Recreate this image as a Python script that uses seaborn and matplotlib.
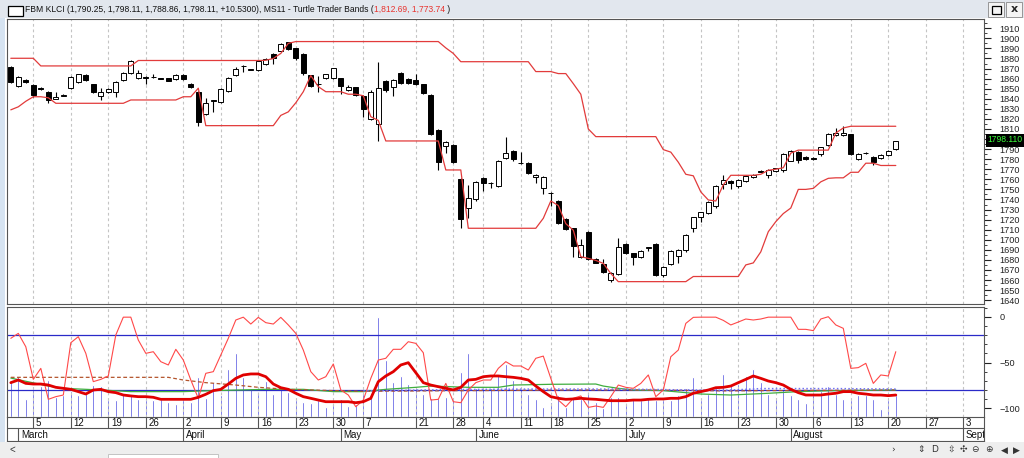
import numpy as np
import pandas as pd
import matplotlib
matplotlib.use("Agg")
import matplotlib.pyplot as plt
from matplotlib.patches import Rectangle
import seaborn as sns

sns.set_theme(style="white")
plt.rcParams["font.family"] = ["Liberation Sans", "DejaVu Sans"]

# ---------------- data ----------------
holidays = ["2018-05-01", "2018-05-09", "2018-05-10", "2018-05-11", "2018-05-29", "2018-06-15"]
axis_dates = pd.bdate_range("2018-02-28", "2018-09-07")
axis_dates = axis_dates[~axis_dates.isin(pd.to_datetime(holidays))]

open_ = np.array([
    1871.3, 1852.7, 1859.0, 1853.7, 1851.0, 1847.0, 1840.0, 1843.0, 1851.0, 1857.0,
    1863.6, 1854.4, 1843.0, 1846.4, 1846.4, 1858.7, 1865.3, 1860.3, 1861.5, 1861.5,
    1860.5, 1860.3, 1859.3, 1863.6, 1854.7, 1847.0, 1824.6, 1838.0, 1837.1, 1847.7,
    1863.6, 1872.5, 1869.0, 1868.6, 1874.2, 1884.1, 1887.8, 1896.1, 1890.0, 1884.2,
    1863.6, 1854.8, 1860.3, 1861.0, 1860.3, 1848.7, 1851.4, 1843.1, 1820.0, 1814.7,
    1857.7, 1852.0, 1866.0, 1859.7, 1858.7, 1854.4, 1843.8, 1809.0, 1793.4, 1794.1,
    1760.3, 1731.8, 1740.2, 1761.7, 1756.0, 1753.7, 1781.0, 1788.5, 1776.5, 1776.0,
    1762.0, 1751.0, 1746.5, 1738.8, 1720.2, 1711.4, 1682.6, 1708.0, 1680.6, 1675.9,
    1660.0, 1666.0, 1695.7, 1686.4, 1683.0, 1692.0, 1695.7, 1665.0, 1676.2, 1683.7,
    1690.0, 1711.4, 1722.3, 1727.0, 1733.6, 1755.4, 1758.7, 1753.4, 1758.7, 1762.0,
    1768.0, 1764.3, 1768.6, 1769.3, 1778.5, 1787.5, 1782.2, 1781.6, 1785.2, 1794.0,
    1804.0, 1804.3, 1804.7, 1779.9, 1786.2, 1782.2, 1780.9, 1784.2, 1790.25])
high = np.array([
    1872.6, 1863.0, 1860.0, 1854.5, 1852.0, 1848.0, 1846.4, 1845.0, 1863.0, 1865.0,
    1864.5, 1855.0, 1851.0, 1850.5, 1858.0, 1866.5, 1878.0, 1868.6, 1862.5, 1865.0,
    1861.0, 1861.0, 1864.5, 1864.5, 1855.5, 1848.0, 1841.0, 1839.0, 1850.5, 1862.0,
    1872.0, 1873.5, 1870.0, 1878.2, 1880.0, 1885.0, 1895.0, 1896.8, 1890.5, 1885.0,
    1864.0, 1863.0, 1865.0, 1871.0, 1861.0, 1854.0, 1852.0, 1844.0, 1848.5, 1876.8,
    1858.5, 1859.5, 1867.0, 1860.5, 1865.0, 1855.0, 1844.5, 1810.0, 1798.5, 1795.0,
    1761.0, 1754.0, 1758.0, 1762.5, 1757.0, 1779.0, 1802.4, 1789.5, 1787.0, 1777.0,
    1765.0, 1763.5, 1747.5, 1739.5, 1722.0, 1712.0, 1701.0, 1709.0, 1681.5, 1681.0,
    1667.5, 1702.0, 1696.5, 1687.0, 1690.0, 1693.0, 1696.5, 1674.0, 1689.5, 1691.0,
    1706.0, 1723.0, 1728.0, 1738.5, 1754.5, 1764.0, 1759.5, 1760.0, 1764.0, 1765.0,
    1769.0, 1770.0, 1771.5, 1786.0, 1789.0, 1788.0, 1783.0, 1782.5, 1792.5, 1806.0,
    1811.0, 1812.7, 1805.5, 1786.0, 1787.0, 1783.0, 1785.0, 1789.5, 1798.11])
low = np.array([
    1856.0, 1851.5, 1856.0, 1842.0, 1849.0, 1835.5, 1839.5, 1842.5, 1850.0, 1856.0,
    1858.0, 1845.5, 1838.8, 1845.5, 1842.0, 1858.0, 1864.5, 1859.5, 1854.3, 1861.0,
    1859.5, 1857.5, 1858.5, 1858.5, 1850.5, 1813.3, 1823.5, 1827.0, 1836.0, 1847.0,
    1863.0, 1866.3, 1868.5, 1868.0, 1873.5, 1875.0, 1887.0, 1888.5, 1878.0, 1864.0,
    1852.0, 1847.0, 1859.5, 1860.0, 1844.5, 1847.5, 1843.0, 1822.2, 1818.5, 1798.1,
    1847.0, 1843.0, 1854.5, 1854.5, 1853.5, 1845.0, 1804.0, 1769.3, 1786.0, 1776.0,
    1711.4, 1721.3, 1738.5, 1748.0, 1751.0, 1752.5, 1780.0, 1778.0, 1775.0, 1765.0,
    1756.0, 1745.5, 1734.0, 1716.0, 1709.5, 1683.2, 1681.5, 1679.5, 1676.5, 1666.5,
    1658.4, 1665.0, 1685.5, 1675.0, 1682.0, 1689.0, 1664.0, 1663.5, 1675.0, 1677.0,
    1688.0, 1708.0, 1718.0, 1726.0, 1731.5, 1750.0, 1750.0, 1751.0, 1757.5, 1761.0,
    1767.0, 1761.5, 1767.0, 1767.0, 1778.0, 1776.0, 1779.5, 1779.5, 1783.0, 1793.0,
    1803.0, 1803.5, 1784.0, 1779.0, 1785.0, 1773.74, 1780.3, 1783.5, 1788.86])
close = np.array([
    1857.0, 1861.9, 1857.0, 1843.8, 1850.0, 1838.8, 1841.5, 1844.0, 1862.0, 1864.3,
    1858.7, 1846.4, 1846.4, 1849.4, 1857.0, 1865.3, 1877.5, 1865.3, 1861.0, 1862.0,
    1860.0, 1858.0, 1863.6, 1859.3, 1851.4, 1816.6, 1835.5, 1838.5, 1849.7, 1861.0,
    1869.2, 1873.0, 1869.5, 1877.5, 1879.2, 1880.2, 1894.1, 1889.4, 1880.8, 1865.3,
    1853.0, 1854.4, 1864.3, 1870.3, 1852.5, 1852.0, 1843.8, 1829.9, 1847.0, 1850.4,
    1848.7, 1858.7, 1855.4, 1855.4, 1854.4, 1846.0, 1805.0, 1777.0, 1797.4, 1777.0,
    1720.6, 1741.2, 1757.1, 1756.1, 1756.3, 1778.2, 1786.0, 1780.0, 1776.0, 1766.0,
    1764.3, 1762.6, 1746.0, 1717.0, 1710.7, 1693.8, 1694.8, 1680.6, 1677.3, 1667.7,
    1666.7, 1692.5, 1686.4, 1682.6, 1689.0, 1692.2, 1665.0, 1673.3, 1688.6, 1690.0,
    1705.0, 1722.3, 1727.3, 1737.9, 1753.4, 1759.4, 1756.1, 1759.4, 1763.3, 1764.3,
    1767.6, 1769.3, 1771.0, 1785.2, 1788.5, 1779.2, 1780.5, 1780.2, 1791.8, 1805.0,
    1805.7, 1806.3, 1784.8, 1785.2, 1785.9, 1777.3, 1784.2, 1788.5, 1798.11])

upper_band = np.array([
    1880.2, 1880.2, 1880.2, 1880.2, 1872.6, 1872.6, 1872.6, 1872.6, 1872.6, 1872.6,
    1872.6, 1872.6, 1872.6, 1872.6, 1872.6, 1872.6, 1872.6, 1878.0, 1878.0, 1878.0,
    1878.0, 1878.0, 1878.0, 1878.0, 1878.0, 1878.0, 1878.0, 1878.0, 1878.0, 1878.0,
    1878.0, 1878.0, 1878.0, 1878.0, 1878.2, 1880.0, 1885.0, 1895.0, 1896.8, 1896.8,
    1896.8, 1896.8, 1896.8, 1896.8, 1896.8, 1896.8, 1896.8, 1896.8, 1896.8, 1896.8,
    1896.8, 1896.8, 1896.8, 1896.8, 1896.8, 1896.8, 1896.8, 1896.8, 1890.5, 1885.0,
    1876.8, 1876.8, 1876.8, 1876.8, 1876.8, 1876.8, 1876.8, 1876.8, 1876.8, 1876.8,
    1867.0, 1867.0, 1867.0, 1865.0, 1865.0, 1855.0, 1844.5, 1810.0, 1802.4, 1802.4,
    1802.4, 1802.4, 1802.4, 1802.4, 1802.4, 1802.4, 1802.4, 1789.5, 1787.0, 1777.0,
    1765.0, 1763.5, 1747.5, 1739.5, 1738.5, 1754.5, 1764.0, 1764.0, 1764.0, 1764.0,
    1765.0, 1769.0, 1770.0, 1771.5, 1786.0, 1789.0, 1789.0, 1789.0, 1789.0, 1789.0,
    1806.0, 1811.0, 1812.69, 1812.69, 1812.69, 1812.69, 1812.69, 1812.69, 1812.69])
lower_band = np.array([
    1829.0, 1832.0, 1837.5, 1842.0, 1842.0, 1841.0, 1835.5, 1835.5, 1835.5, 1835.5,
    1835.5, 1835.5, 1835.5, 1835.5, 1835.5, 1835.5, 1838.8, 1838.8, 1838.8, 1838.8,
    1838.8, 1838.8, 1838.8, 1842.0, 1842.0, 1850.5, 1813.3, 1813.3, 1813.3, 1813.3,
    1813.3, 1813.3, 1813.3, 1813.3, 1813.3, 1813.3, 1823.5, 1827.0, 1836.0, 1847.0,
    1863.0, 1852.0, 1847.0, 1847.0, 1847.0, 1844.5, 1844.5, 1843.0, 1822.2, 1818.5,
    1798.1, 1798.1, 1798.1, 1798.1, 1798.1, 1798.1, 1798.1, 1798.1, 1769.3, 1769.3,
    1769.3, 1711.4, 1711.4, 1711.4, 1711.4, 1711.4, 1711.4, 1711.4, 1711.4, 1711.4,
    1711.4, 1721.3, 1738.5, 1734.0, 1716.0, 1709.5, 1683.2, 1681.5, 1679.5, 1676.5,
    1666.5, 1658.4, 1658.4, 1658.4, 1658.4, 1658.4, 1658.4, 1658.4, 1658.4, 1658.4,
    1658.4, 1663.5, 1663.5, 1663.5, 1663.5, 1663.5, 1663.5, 1663.5, 1675.0, 1677.0,
    1688.0, 1708.0, 1718.0, 1726.0, 1731.5, 1750.0, 1750.0, 1751.0, 1757.5, 1761.0,
    1761.5, 1761.5, 1767.0, 1767.0, 1776.0, 1776.0, 1773.74, 1773.74, 1773.74])

pct_r = np.array([
    -23.6, -18.2, -32.8, -68.4, -56.4, -90.2, -87.3, -85.5, -28.4, -21.8,
    -40.0, -70.9, -68.4, -64.7, -20.0, -0.5, -0.5, -25.5, -40.0, -38.2,
    -49.1, -52.7, -35.6, -47.3, -69.1, -89.1, -61.8, -60.0, -41.8, -23.6,
    -3.6, -0.5, -8.0, -0.7, -6.5, -8.0, -0.7, -9.0, -18.2, -36.4,
    -60.0, -69.1, -65.5, -51.6, -80.0, -85.5, -98.3, -91.0, -67.3, -47.3,
    -45.4, -35.6, -35.6, -27.3, -29.1, -39.3, -91.0, -90.2, -72.8, -92.8,
    -93.9, -80.0, -72.0, -69.1, -69.1, -56.4, -49.1, -53.8, -53.8, -58.2,
    -45.4, -43.0, -67.3, -91.0, -98.3, -89.1, -86.5, -99.0, -97.5, -99.0,
    -87.3, -74.6, -77.1, -78.2, -72.8, -63.6, -87.3, -80.0, -43.7, -36.4,
    -7.3, -0.7, -0.5, -0.5, -0.5, -4.0, -9.0, -5.8, -2.5, -3.6,
    -2.5, -0.5, -0.5, -0.5, -0.5, -13.8, -13.8, -15.2, -2.5, 0.0,
    -9.0, -12.7, -56.4, -55.6, -50.9, -72.8, -63.6, -64.7, -38.2])
pct_r_smooth = np.array([
    -72.0, -69.1, -72.8, -73.5, -73.5, -74.6, -77.1, -78.2, -79.3, -81.8,
    -84.4, -80.0, -79.3, -81.8, -82.9, -85.5, -86.5, -87.3, -87.3, -88.0,
    -90.2, -90.2, -90.2, -90.2, -90.2, -88.0, -84.7, -80.7, -79.3, -73.5,
    -67.3, -63.6, -62.5, -62.5, -65.5, -73.5, -77.5, -79.3, -83.6, -87.3,
    -89.1, -91.0, -92.8, -92.8, -92.8, -92.8, -93.9, -92.8, -89.1, -70.9,
    -64.7, -60.0, -52.7, -50.2, -61.1, -72.0, -74.6, -76.4, -78.2, -80.0,
    -77.1, -69.1, -68.4, -65.5, -64.7, -64.7, -65.5, -66.2, -67.3, -69.1,
    -75.7, -81.8, -87.3, -89.1, -90.2, -89.8, -89.1, -89.8, -90.2, -91.0,
    -91.7, -91.7, -91.7, -91.0, -91.0, -90.2, -89.8, -89.8, -89.1, -89.1,
    -87.3, -83.6, -81.8, -80.0, -77.5, -77.1, -75.7, -72.0, -68.4, -64.7,
    -67.3, -70.2, -72.0, -74.6, -79.3, -82.9, -85.5, -85.5, -85.5, -84.4,
    -83.6, -81.8, -81.8, -83.6, -84.4, -85.5, -85.5, -86.2, -85.5])
volume = np.array([
    36, 40.7, 18.3, 27.3, 30.7, 36.7, 20, 21.7, 26, 21.7,
    25, 31.7, 30.7, 16.7, 16.7, 23.3, 21.7, 18.3, 16.7, 16.7,
    18.3, 15, 13.3, 16.7, 15, 40, 19.3, 35, 21.7, 48.3,
    64.3, 40, 29.3, 23.3, 36, 22.7, 28.3, 25, 16.7, 15,
    14, 16.7, 10, 11.7, 18.3, 10.7, 13.3, 23.3, 23.3, 100,
    57.3, 35, 40.7, 33.3, 30, 22.7, 19.3, 19.3, 20, 20,
    45, 64, 29.3, 30.7, 29.3, 42.7, 53.3, 36.7, 28.3, 22.7,
    18.3, 10, 15, 21.7, 10, 20, 18.3, 25, 15, 9.3,
    20, 20, 11.7, 19.3, 16.7, 20, 16.7, 16.7, 16.7, 21.7,
    29.3, 40, 16.7, 23.3, 29.3, 43.3, 33.3, 33.3, 40.7, 48.3,
    35, 23.3, 20, 28.3, 21.7, 18.3, 14, 21.7, 26, 30.7,
    22.7, 18.3, 17.3, 21.7, 21.7, 18.3, 8.3, 17.3, 21.7])

green_idx = [0, 5, 7, 12, 16, 23, 27, 34, 39, 43, 47, 50, 54, 56, 61, 65, 67, 72, 78, 79,
             81, 83, 87, 90, 92, 96, 101, 105, 110, 118]
green_val = [-67.0, -75.7, -78.2, -80.0, -81.8, -81.8, -80.7, -79.3, -79.3, -81.8, -81.8,
             -79.3, -77.1, -75.7, -77.1, -77.1, -74.6, -73.8, -73.5, -75.7, -78.2, -80.0,
             -80.7, -82.9, -84.4, -85.5, -83.6, -81.8, -80.7, -80.0]
brown_idx = [0, 21, 23, 26, 30, 33, 37, 40, 47, 55, 65, 75, 85, 95, 105, 118]
brown_val = [-66.2, -66.2, -69.1, -72.0, -74.6, -77.1, -79.3, -80.0, -81.5, -81.0, -80.5,
             -80.0, -80.0, -81.0, -80.5, -80.0]
dotted_idx = [47, 60, 70, 80, 86, 95, 100, 110, 118]
dotted_val = [-81.0, -79.5, -79.0, -79.0, -79.5, -80.5, -78.5, -78.5, -79.0]

price_ticks = list(range(1640, 1911, 10))
hidden_price_tick = 1800
month_names = ["March", "April", "May", "June", "July", "August", "September"]
title_main = "FBM KLCI (1,790.25, 1,798.11, 1,788.86, 1,798.11, +10.5300), MS11 - Turtle Trader Bands ("
title_red = "1,812.69, 1,773.74"
title_end = " )"
last_price_label = "1798.110"

# ---------------- derived positions ----------------
n = len(close)
x = np.arange(n)
day_ticks, day_labels = [], []
for i, d in enumerate(axis_dates):
    if d.weekday() == 0 and (not day_ticks or i - day_ticks[-1] >= 3):
        day_ticks.append(i)
        day_labels.append(str(d.day))
month_ticks = [i for i in range(1, len(axis_dates)) if axis_dates[i].month != axis_dates[i - 1].month]

# ---------------- figure ----------------
W, H = 1024, 458
fig = plt.figure(figsize=(W / 100, H / 100), dpi=100)
fig.patch.set_facecolor("white")

def fx(px):
    return px / W

def fy(py):
    return 1 - py / H

LPX, RPX = 7, 984
XL = (-0.507, 129.76)

# window chrome
fig.patches.append(Rectangle((0, fy(18)), 1, 18 / H, transform=fig.transFigure,
                             facecolor="#e2e7ee", edgecolor="none", zorder=0))
fig.patches.append(Rectangle((0, fy(442)), fx(5), 424 / H, transform=fig.transFigure,
                             facecolor="#d6e3f1", edgecolor="none", zorder=0))
fig.patches.append(Rectangle((0, 0), 1, 16 / H, transform=fig.transFigure,
                             facecolor="#eeeeee", edgecolor="none", zorder=0))
fig.patches.append(Rectangle((fx(108), 0), fx(110), 4 / H, transform=fig.transFigure,
                             facecolor="white", edgecolor="#bbbbbb", lw=0.6, zorder=1))
fig.patches.append(Rectangle((fx(8), fy(16)), fx(15), 10 / H, transform=fig.transFigure,
                             facecolor="white", edgecolor="black", lw=0.9, zorder=2))
for bx in (988, 1006):
    fig.patches.append(Rectangle((fx(bx), fy(17)), fx(16), 15 / H, transform=fig.transFigure,
                                 facecolor="#f4f4f4", edgecolor="#888888", lw=0.6, zorder=2))
fig.patches.append(Rectangle((fx(991.5), fy(14)), fx(9), 8 / H, transform=fig.transFigure,
                             facecolor="none", edgecolor="black", lw=0.9, zorder=3))
fig.text(fx(1014), fy(9.5), "x", fontsize=8, fontweight="bold", ha="center", va="center",
         family="DejaVu Sans")
fig.text(fx(10), fy(450), "<", fontsize=7, ha="left", va="center", color="#333333")
icons = [(893, "›"), (921, "⇕"), (935, "D"), (951, "⇳"), (963, "✣"), (975, "⊖"), (989, "⊕"),
         (1004, "◀"), (1016, "▶")]
for ix, g in icons:
    fig.text(fx(ix), fy(450), g, fontsize=6.5, ha="center", va="center", color="#333333",
             family="DejaVu Sans")

# title
TFS = 6.15
t1 = fig.text(fx(25), fy(9.5), title_main, fontsize=TFS, ha="left", va="center", color="#111111")
fig.canvas.draw()
rend = fig.canvas.get_renderer()
bb = t1.get_window_extent(rend)
t2 = fig.text(bb.x1 / W, fy(9.5), title_red, fontsize=TFS, ha="left", va="center", color="#e8332e")
bb2 = t2.get_window_extent(rend)
fig.text(bb2.x1 / W, fy(9.5), title_end, fontsize=TFS, ha="left", va="center", color="#111111")

# ---------------- price panel ----------------
ax = fig.add_axes([fx(LPX), fy(304), fx(RPX - LPX), (304 - 19) / H])
ax.set_facecolor("white")
ax.set_xlim(*XL)
ax.set_ylim(1636.2, 1919.2)
ax.set_xticks(day_ticks)
ax.grid(True, axis="x", color="#c4c4c4", ls=(0, (2.5, 2.5)), lw=0.8)
ax.grid(False, axis="y")
ax.tick_params(axis="x", length=0, labelbottom=False)

up = close >= open_
ax.vlines(x, low, high, color="black", lw=0.8, zorder=2)
ax.bar(x, np.maximum(np.abs(close - open_), 0.4), bottom=np.minimum(open_, close), width=0.64,
       color=np.where(up, "white", "black"), edgecolor="black", linewidth=0.7, zorder=3)
sns.lineplot(x=x, y=upper_band, ax=ax, color="#e23b3b", lw=0.9, zorder=4, estimator=None)
sns.lineplot(x=x, y=lower_band, ax=ax, color="#e23b3b", lw=0.9, zorder=4, estimator=None)

ax.yaxis.tick_right()
ax.set_yticks(price_ticks)
ax.set_yticklabels(["" if p == hidden_price_tick else str(p) for p in price_ticks])
ax.set_yticks(np.arange(1645, 1916, 10), minor=True)
ax.tick_params(axis="y", which="major", right=True, labelright=True, length=5, width=0.8,
               direction="out", pad=6, labelsize=6.6, colors="#222222")
ax.tick_params(axis="y", which="minor", right=True, length=2.5, width=0.6, direction="out",
               colors="#222222")
ax.set_xlabel("")
ax.set_ylabel("")
for s in ax.spines.values():
    s.set_color("#555555")
    s.set_linewidth(0.8)

# last price tag
fig.patches.append(Rectangle((fx(986), fy(146.5)), fx(38), 13 / H, transform=fig.transFigure,
                             facecolor="black", edgecolor="none", zorder=5))
fig.text(fx(987.5), fy(140), last_price_label, fontsize=6.2, color="#3cff3c", ha="left",
         va="center", zorder=6)

# ---------------- indicator panel ----------------
ax2 = fig.add_axes([fx(LPX), fy(417), fx(RPX - LPX), (417 - 307) / H])
ax2v = ax2.twinx()
ax2v.bar(x, volume, width=0.24, color="#3535dc", zorder=1)
ax2v.set_ylim(0, 110)
ax2v.set_yticks([])
ax2v.set_xlim(*XL)
for s in ax2v.spines.values():
    s.set_visible(False)
ax2.set_zorder(ax2v.get_zorder() + 1)
ax2.patch.set_visible(False)

ax2.set_xlim(*XL)
ax2.set_ylim(-109.5, 10.6)
ax2.set_xticks(day_ticks)
ax2.grid(True, axis="x", color="#c4c4c4", ls=(0, (2.5, 2.5)), lw=0.8)
ax2.grid(False, axis="y")
ax2.tick_params(axis="x", length=0, labelbottom=False)
ax2.axhline(-20, color="#2a2ac8", lw=0.9, zorder=2)
ax2.axhline(-80, color="#2a2ac8", lw=0.9, zorder=2)
sns.lineplot(x=green_idx, y=green_val, ax=ax2, color="#3fae3f", lw=0.9, zorder=3, estimator=None)
sns.lineplot(x=brown_idx, y=brown_val, ax=ax2, color="#b4552d", lw=0.9, zorder=3,
             estimator=None).lines[-1].set_linestyle((0, (3, 2)))
sns.lineplot(x=dotted_idx, y=dotted_val, ax=ax2, color="#7272f2", lw=1.1, zorder=3,
             estimator=None).lines[-1].set_linestyle((0, (1, 1.5)))
sns.lineplot(x=x, y=pct_r, ax=ax2, color="#ff4848", lw=0.8, zorder=4, estimator=None)
sns.lineplot(x=x, y=pct_r_smooth, ax=ax2, color="#e00000", lw=2.0, zorder=5, estimator=None)

ax2.yaxis.tick_right()
ax2.set_yticks([0, -50, -100])
ax2.set_yticks(np.arange(-100, 11, 10), minor=True)
ax2.tick_params(axis="y", which="major", right=True, labelright=True, length=5, width=0.8,
                direction="out", pad=6, labelsize=6.6, colors="#222222")
ax2.tick_params(axis="y", which="minor", right=True, length=2.5, width=0.6, direction="out",
                colors="#222222")
ax2.set_xlabel("")
ax2.set_ylabel("")
for s in ax2.spines.values():
    s.set_color("#555555")
    s.set_linewidth(0.8)

# ---------------- date rows ----------------
axd = fig.add_axes([fx(LPX), fy(441), fx(RPX - LPX), (441 - 417) / H])
axd.set_xlim(*XL)
axd.set_ylim(0, 24)
axd.set_xticks([])
axd.set_yticks([])
axd.set_facecolor("white")
for s in axd.spines.values():
    s.set_color("#555555")
    s.set_linewidth(0.8)
axd.spines["top"].set_visible(False)
axd.axhline(12.7, color="#555555", lw=0.8)
axd.vlines(day_ticks, 12.7, 24, color="#555555", lw=0.8)
axd.vlines(month_ticks, 0, 12.7, color="#555555", lw=0.8)
for t, lab in zip(day_ticks, day_labels):
    axd.text(t + 0.35, 18.2, lab, ha="left", va="center", fontsize=7, color="#111111",
             clip_on=True)
for t, name in zip(month_ticks, month_names):
    axd.text(t + 0.35, 6.0, name, ha="left", va="center", fontsize=7, color="#111111",
             clip_on=True)

fig.savefig("out.png", dpi=100)
